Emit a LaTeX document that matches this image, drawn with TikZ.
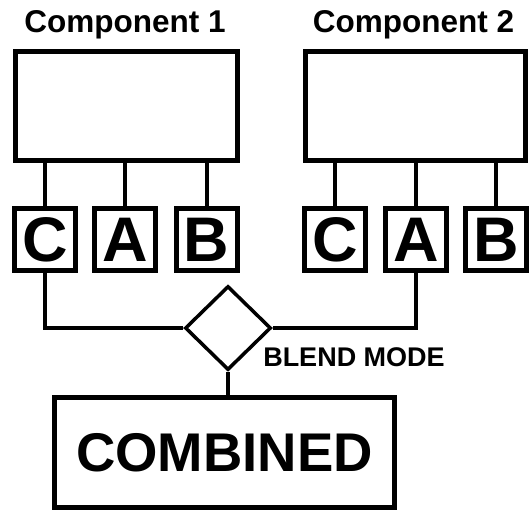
\documentclass[tikz,border=0pt]{standalone}
\usepackage{fontspec}
\setmainfont{Liberation Sans}
\usepackage{tikz}
\usetikzlibrary{calc, positioning, shapes.geometric}
\tikzset{
  compbox/.style={draw, line width=5pt, minimum width=222pt, minimum height=109pt, inner sep=0pt},
  chanbox/.style={draw, line width=5pt, minimum width=61pt, minimum height=62pt, inner sep=0pt, font=\fontsize{63}{63}\selectfont\bfseries},
  link/.style={line width=4pt},
}

\begin{document}
\begin{tikzpicture}[x=1pt, y=-1pt]
  \useasboundingbox (0,0) rectangle (529,512);
  % components and their channels
  \node[compbox] (comp1) at (126,105.5) {};
  \node[compbox, minimum width=220pt] (comp2) at (415.5,105.5) {};
  \node[font=\fontsize{31.5}{31.5}\selectfont\bfseries, anchor=base] (title1) at (125,32) {Component 1};
  \node[font=\fontsize{31.5}{31.5}\selectfont\bfseries, anchor=base] (title2) at (413.5,32) {Component 2};
  \foreach \l/\x in {C/45, A/125, B/206.5}{
    \node[chanbox] (p1\l) at (\x,239.5) {\l};
    \draw[link] (p1\l.north) -- (p1\l.north |- comp1.south);
  }
  \foreach \l/\x in {C/335, A/416, B/496}{
    \node[chanbox] (p2\l) at (\x,239.5) {\l};
    \draw[link] (p2\l.north) -- (p2\l.north |- comp2.south);
  }
  % blending
  \node[diamond, draw, line width=3.5pt, minimum width=86pt, minimum height=84pt, inner sep=0pt] (blend) at (228,328) {};
  \node[font=\fontsize{27}{27}\selectfont\bfseries] (blendlabel) at (354,357) {BLEND MODE};
  \node[draw, line width=5pt, minimum width=340pt, minimum height=110pt, inner sep=0pt, font=\fontsize{54.5}{54.5}\selectfont\bfseries] (combined) at (224.5,452.5) {COMBINED};
  \draw[link] (p1C.south) |- (blend.west);
  \draw[link] (p2A.south) |- (blend.east);
  \draw[link] (blend.south) -- (blend.south |- combined.north);
\end{tikzpicture}
\end{document}
